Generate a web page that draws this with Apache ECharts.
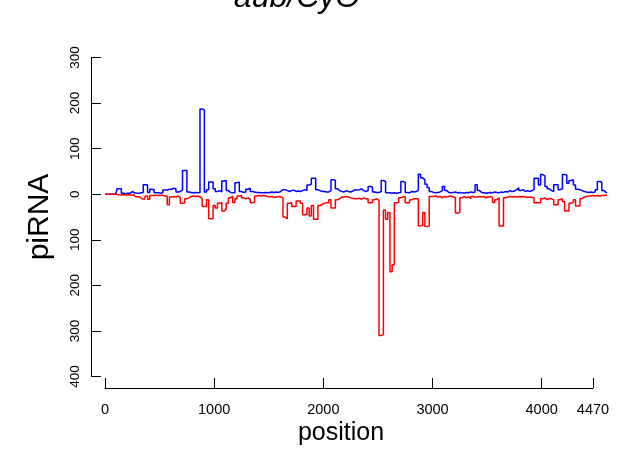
<!DOCTYPE html>
<html>
<head>
<meta charset="utf-8">
<script src="https://cdn.jsdelivr.net/npm/echarts@6/dist/echarts.min.js"></script>
<style>html,body{margin:0;padding:0;background:#fff;}#c{width:618px;height:453px;}</style>
</head>
<body>
<div id="c"></div>
<script>
const titleText = 'aub/CyO';
const xName = 'position';
const yName = 'piRNA';
const xTicks = [0, 1000, 2000, 3000, 4000, 4470];
const yTicks = [-400, -300, -200, -100, 0, 100, 200, 300];

const positions = [
0,20,40,60,80,100,120,140,160,180,200,220,240,260,280,300,320,340,360,380,
400,420,440,460,480,500,520,540,560,580,600,620,640,660,680,700,720,740,760,780,
800,820,840,860,880,900,920,940,960,980,1000,1020,1040,1060,1080,1100,1120,1140,1160,1180,
1200,1220,1240,1260,1280,1300,1320,1340,1360,1380,1400,1420,1440,1460,1480,1500,1520,1540,1560,1580,
1600,1620,1640,1660,1680,1700,1720,1740,1760,1780,1800,1820,1840,1860,1880,1900,1920,1940,1960,1980,
2000,2020,2040,2060,2080,2100,2120,2140,2160,2180,2200,2220,2240,2260,2280,2300,2320,2340,2360,2380,
2400,2420,2440,2460,2480,2500,2520,2540,2560,2580,2600,2620,2640,2660,2680,2700,2720,2740,2760,2780,
2800,2820,2840,2860,2880,2900,2920,2940,2960,2980,3000,3020,3040,3060,3080,3100,3120,3140,3160,3180,
3200,3220,3240,3260,3280,3300,3320,3340,3360,3380,3400,3420,3440,3460,3480,3500,3520,3540,3560,3580,
3600,3620,3640,3660,3680,3700,3720,3740,3760,3780,3800,3820,3840,3860,3880,3900,3920,3940,3960,3980,
4000,4020,4040,4060,4080,4100,4120,4140,4160,4180,4200,4220,4240,4260,4280,4300,4320,4340,4360,4380,
4400,4420,4440,4460,4480,4500,4520,4540,4560,4580,4600
];

const sense = [
0,0,0,0,0,1,12,12,2,1,2,2,6,3,2,2,3,4,21,20,
4,11,10,3,3,2,3,9,9,11,11,13,12,5,6,9,52,52,5,4,
3,4,3,4,187,185,5,10,27,27,12,6,8,5,29,30,8,4,3,4,
25,27,6,4,5,11,13,6,5,4,4,3,3,4,3,4,5,4,5,4,
6,10,10,8,6,8,9,6,7,6,8,10,8,20,22,35,35,10,8,6,
6,5,5,8,32,30,12,8,6,5,8,6,5,7,10,9,10,12,8,6,
8,17,16,5,4,4,6,30,28,3,3,2,3,2,3,4,28,26,4,3,
6,5,6,8,44,36,32,22,15,6,4,3,4,5,8,17,8,4,3,4,
5,3,4,3,2,4,3,5,4,5,21,8,4,3,2,3,4,3,5,4,
3,5,4,6,5,8,6,7,10,14,8,10,6,8,6,8,10,35,35,20,
43,40,17,12,8,6,21,21,10,12,43,42,24,30,32,20,11,10,8,6,
5,4,5,4,5,10,28,27,8,4,3
];

const antisense = [
0,0,0,0,0,0,-1,-2,-1,-1,-2,-1,-2,-1,-5,-6,-6,-10,-11,-4,
-11,-3,-3,-2,-3,-3,-2,-4,-4,-23,-6,-5,-6,-4,-8,-20,-19,-10,-8,-5,
-4,-5,-4,-6,-10,-27,-27,-12,-54,-54,-25,-30,-20,-18,-37,-34,-20,-8,-4,-18,
-10,-4,-3,-8,-10,-8,-11,-19,-17,-4,-3,-4,-3,-4,-5,-6,-5,-7,-6,-5,
-6,-8,-50,-54,-20,-18,-27,-27,-15,-15,-20,-45,-44,-30,-48,-25,-55,-55,-25,-22,
-20,-19,-19,-12,-30,-30,-12,-10,-6,-6,-5,-6,-8,-9,-10,-10,-9,-11,-8,-10,
-10,-19,-19,-12,-10,-14,-310,-308,-35,-55,-40,-170,-155,-19,-18,-8,-6,-5,-19,-19,
-12,-10,-10,-10,-69,-68,-40,-71,-70,-5,-5,-4,-6,-5,-8,-5,-6,-5,-4,-6,
-7,-41,-40,-8,-5,-8,-6,-10,-5,-6,-6,-5,-6,-5,-8,-6,-5,-7,-18,-12,
-8,-70,-70,-8,-6,-5,-6,-5,-6,-5,-6,-5,-6,-7,-6,-7,-8,-19,-19,-19,
-10,-8,-12,-10,-10,-12,-23,-23,-12,-10,-16,-37,-37,-20,-18,-12,-26,-26,-10,-6,
-5,-4,-4,-3,-4,-3,-4,-3,-3,-2,-2
];

const FONT = 'Liberation Sans, Arial, Helvetica, sans-serif';
const chart = echarts.init(document.getElementById('c'), null, {renderer: 'canvas'});
const pairs = (ys) => positions.map((p, i) => [p, ys[i]]);

chart.setOption({
  animation: false,
  backgroundColor: '#ffffff',
  title: {
    text: titleText, left: 292, top: -23, textAlign: 'center',
    textStyle: {fontFamily: FONT, fontStyle: 'italic', fontWeight: 'normal', fontSize: 32, color: '#000'}
  },
  graphic: [
    {type: 'text', x: 341, y: 433, style: {text: xName, font: '25px ' + FONT, fill: '#000', align: 'center', verticalAlign: 'middle'}}
  ],
  grid: [
    {left: 105, top: 57.5, width: 502.2, height: 319, containLabel: false},
    {left: 105, top: 57.5, width: 488, height: 319, containLabel: false}
  ],
  xAxis: [
    {type: 'value', gridIndex: 0, min: 0, max: positions[positions.length - 1], show: false, splitLine: {show: false}},
    {type: 'value', gridIndex: 1, min: 0, max: 4470, offset: 11.5, position: 'bottom',
     axisLine: {show: true, onZero: false, lineStyle: {color: '#000', width: 1}},
     axisTick: {show: true, inside: true, length: 10, customValues: xTicks, lineStyle: {color: '#000', width: 1}},
     axisLabel: {show: true, customValues: xTicks, margin: 14, fontFamily: FONT, fontSize: 14.5, color: '#000',
       showMaxLabel: true, hideOverlap: false, formatter: (v) => String(v)},
     splitLine: {show: false}}
  ],
  yAxis: [
    {type: 'value', gridIndex: 0, min: -400, max: 300, interval: 100, offset: 14, position: 'left',
     name: yName, nameLocation: 'middle', nameGap: 36, nameRotate: 90,
     nameTextStyle: {fontFamily: FONT, fontSize: 30, color: '#000'},
     axisLine: {show: true, onZero: false, lineStyle: {color: '#000', width: 1}},
     axisTick: {show: true, inside: true, length: 10, customValues: yTicks, lineStyle: {color: '#000', width: 1}},
     axisLabel: {show: true, customValues: yTicks, rotate: 90, margin: 9, fontFamily: FONT, fontSize: 13.5, color: '#000',
       formatter: (v) => String(Math.abs(v))},
     splitLine: {show: false}},
    {type: 'value', gridIndex: 1, min: -400, max: 300, show: false, splitLine: {show: false}}
  ],
  series: [
    {type: 'line', name: 'sense', xAxisIndex: 0, yAxisIndex: 0, data: pairs(sense), step: 'middle',
     showSymbol: false, symbol: 'none', lineStyle: {color: '#0000ff', width: 1.5}, z: 2},
    {type: 'line', name: 'antisense', xAxisIndex: 0, yAxisIndex: 0, data: pairs(antisense), step: 'middle',
     showSymbol: false, symbol: 'none', lineStyle: {color: '#ff0000', width: 1.5}, z: 3}
  ]
});
</script>
</body>
</html>
